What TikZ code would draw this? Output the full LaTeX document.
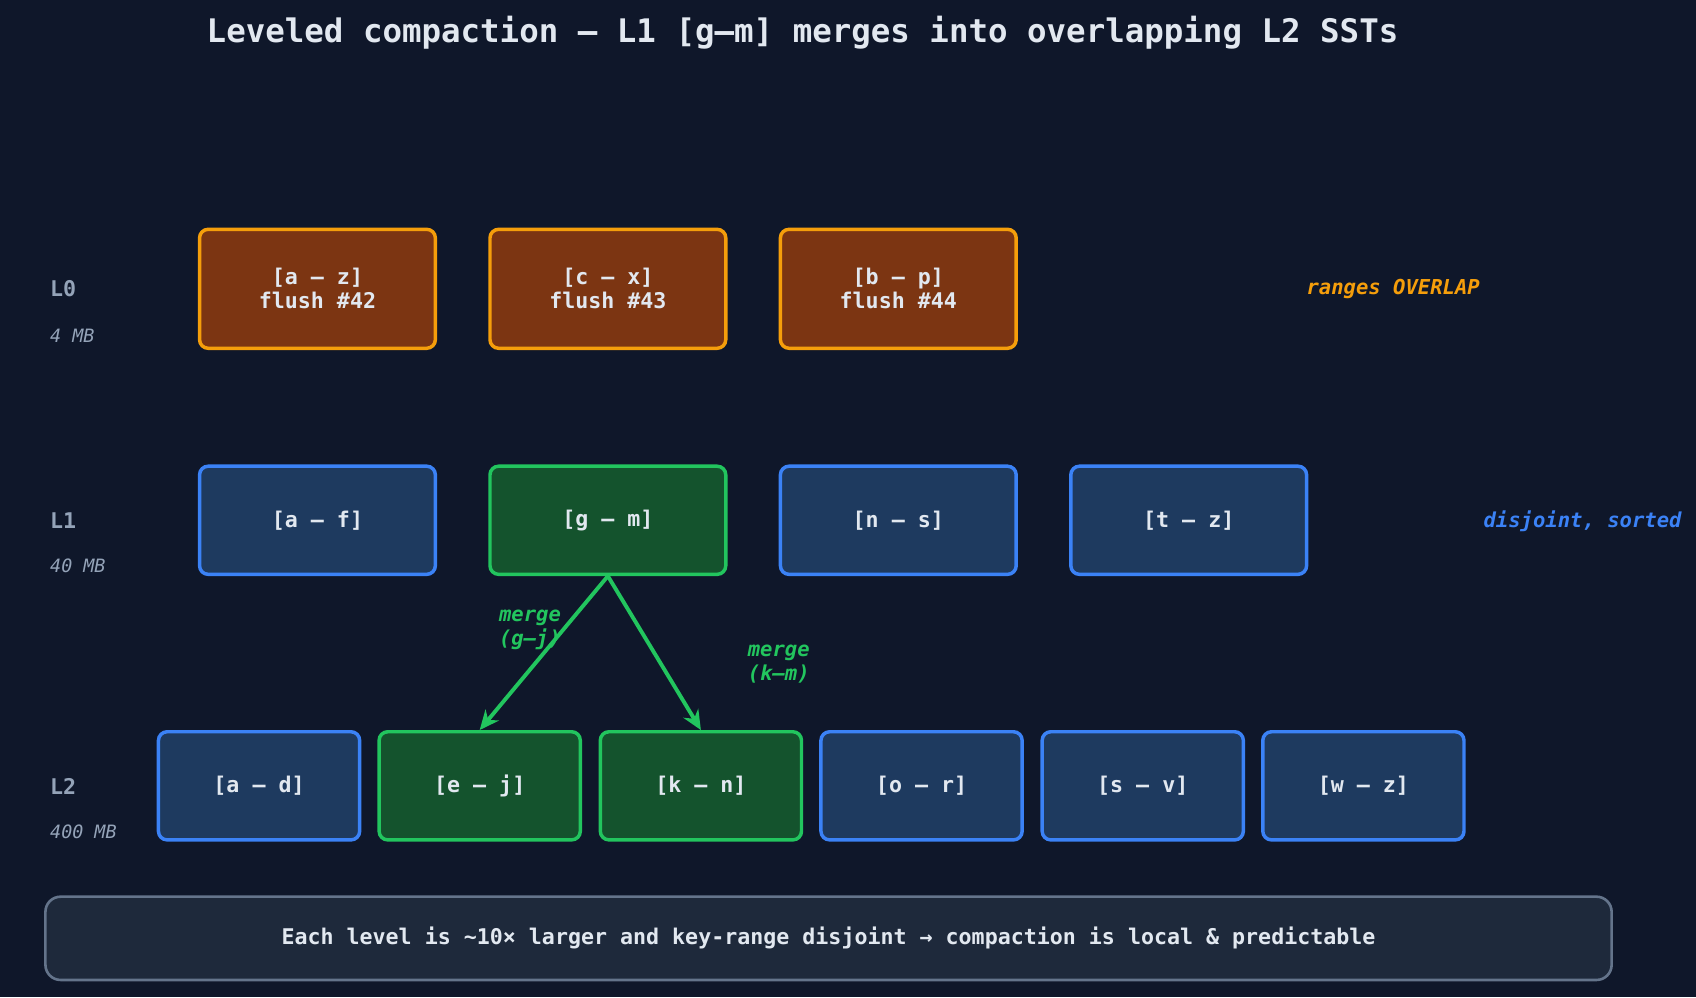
\documentclass[tikz,border=0pt]{standalone}
\usepackage{fontspec}
\setmainfont{DejaVu Sans Mono}
\usetikzlibrary{arrows.meta}
\definecolor{bg}{HTML}{0F172A}
\definecolor{ofill}{HTML}{7C3512}
\definecolor{oline}{HTML}{F59E0B}
\definecolor{bfill}{HTML}{1E3A5F}
\definecolor{bline}{HTML}{3B82F6}
\definecolor{gfill}{HTML}{14532D}
\definecolor{gline}{HTML}{22C55E}
\definecolor{txt}{HTML}{E2E8F0}
\definecolor{gry}{HTML}{94A3B8}
\definecolor{nfill}{HTML}{1E293B}
\definecolor{nline}{HTML}{64748B}
\tikzset{
 sst/.style={rounded corners=4pt, line width=1.6pt, text=txt, font=\bfseries\fontsize{10}{11}\selectfont, align=center, inner sep=0pt},
 l0/.style={sst, draw=oline, fill=ofill, minimum width=109pt, minimum height=55pt},
 l1b/.style={sst, draw=bline, fill=bfill, minimum width=109pt, minimum height=50pt},
 l1g/.style={sst, draw=gline, fill=gfill, minimum width=109pt, minimum height=50pt},
 l2b/.style={sst, draw=bline, fill=bfill, minimum width=93pt, minimum height=50pt},
 l2g/.style={sst, draw=gline, fill=gfill, minimum width=93pt, minimum height=50pt},
 lvl/.style={text=gry, font=\bfseries\fontsize{10}{12}\selectfont, anchor=west, inner sep=0pt},
 sz/.style={text=gry, font=\itshape\fontsize{8.5}{10}\selectfont, anchor=west, inner sep=0pt},
 note/.style={font=\bfseries\itshape\fontsize{9.5}{11}\selectfont, inner sep=0pt},
 mlab/.style={note, text=gline, align=left},
 arr/.style={draw=gline, line width=1.8pt, -{Stealth[length=9pt,width=8pt]}}
}
\begin{document}
\begin{tikzpicture}[x=0.5pt,y=-0.5pt]
\fill[bg] (0,0) rectangle (1568,922);
\useasboundingbox (0,0) rectangle (1568,922);
\node[text=txt, font=\bfseries\fontsize{15}{17}\selectfont] (title) at (742,30) {Leveled compaction — L1 [g–m] merges into overlapping L2 SSTs};
% levels
\node[lvl] (L0) at (46,267) {L0};
\node[sz] (s0) at (46,310) {4 MB};
\node[lvl] (L1) at (46,481) {L1};
\node[sz] (s1) at (46,523) {40 MB};
\node[lvl] (L2) at (46,727) {L2};
\node[sz] (s2) at (46,769) {400 MB};
% L0
\node[l0] (a0) at (293.5,267) {[a – z]\\flush \#42};
\node[l0] (b0) at (562,267) {[c – x]\\flush \#43};
\node[l0] (c0) at (830.5,267) {[b – p]\\flush \#44};
\node[note, text=oline] (ov) at (1288,267) {ranges OVERLAP};
% L1
\node[l1b] (af) at (293.5,481) {[a – f]};
\node[l1g] (gm) at (562,481) {[g – m]};
\node[l1b] (ns) at (830.5,481) {[n – s]};
\node[l1b] (tz) at (1099,481) {[t – z]};
\node[note, text=bline, anchor=east] (dj) at (1555,482) {disjoint, sorted};
% L2
\node[l2b] (ad) at (239.5,726.5) {[a – d]};
\node[l2g] (ej) at (443.5,726.5) {[e – j]};
\node[l2g] (kn) at (648,726.5) {[k – n]};
\node[l2b] (or) at (852,726.5) {[o – r]};
\node[l2b] (sv) at (1056.5,726.5) {[s – v]};
\node[l2b] (wz) at (1260.5,726.5) {[w – z]};
\draw[arr] (gm.south) -- (ej.north);
\draw[arr] (gm.south) -- (kn.north);
\node[mlab] (m1) at (490,582) {merge\\(g–j)};
\node[mlab] (m2) at (720,614) {merge\\(k–m)};
% note
\node[draw=nline, fill=nfill, line width=1.2pt, rounded corners=7pt, minimum width=724pt, minimum height=38.5pt, text=txt, font=\bfseries\fontsize{10}{12}\selectfont] (foot) at (766,867.5) {Each level is \textasciitilde10× larger and key-range disjoint → compaction is local \& predictable};
\end{tikzpicture}
\end{document}
